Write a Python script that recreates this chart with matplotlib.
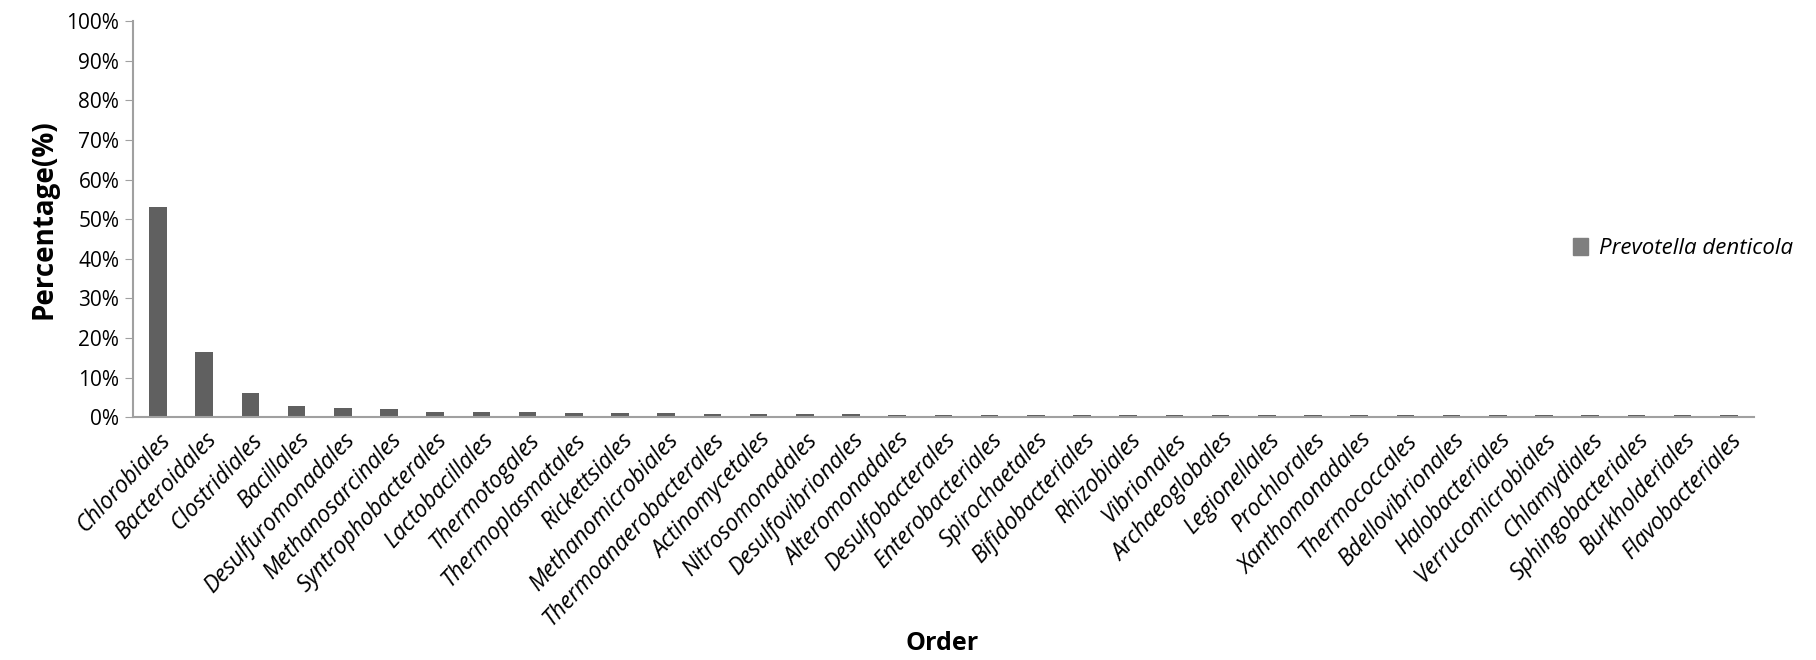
import matplotlib
matplotlib.use("Agg")
import matplotlib.pyplot as plt
import numpy as np

orders = ["Chlorobiales", "Bacteroidales", "Clostridiales", "Bacillales",
          "Desulfuromonadales", "Methanosarcinales", "Syntrophobacterales",
          "Lactobacillales", "Thermotogales", "Thermoplasmatales",
          "Rickettsiales", "Methanomicrobiales", "Thermoanaerobacterales",
          "Actinomycetales", "Nitrosomonadales", "Desulfovibrionales",
          "Alteromonadales", "Desulfobacterales", "Enterobacteriales",
          "Spirochaetales", "Bifidobacteriales", "Rhizobiales", "Vibrionales",
          "Archaeoglobales", "Legionellales", "Prochlorales",
          "Xanthomonadales", "Thermococcales", "Bdellovibrionales",
          "Halobacteriales", "Verrucomicrobiales", "Chlamydiales",
          "Sphingobacteriales", "Burkholderiales", "Flavobacteriales"]
percent = [53.0, 16.5, 6.0, 2.9, 2.4, 2.0, 1.35, 1.35, 1.3, 1.05,
           1.05, 1.0, 0.75, 0.7, 0.7, 0.7, 0.65, 0.5, 0.5, 0.5,
           0.5, 0.5, 0.5, 0.5, 0.5, 0.5, 0.5, 0.5, 0.5, 0.5,
           0.5, 0.5, 0.5, 0.5, 0.45]
series = "Prevotella denticola"

plt.rcParams['font.family'] = ['Open Sans', 'DejaVu Sans']

fig = plt.figure(figsize=(18.16, 6.6), dpi=100)
ax = fig.add_axes([0.073, 0.368, 0.893, 0.6])

x = np.arange(len(orders))
ax.bar(x, percent, width=0.38, color='#606060', label=series)

ax.set_xlim(-0.55, len(orders) - 0.45)
ax.set_ylim(0, 100)
ax.set_yticks(np.arange(0, 101, 10))
ax.set_yticklabels([f"{v}%" for v in range(0, 101, 10)], fontsize=15)
ax.set_xticks(x)
ax.set_xticklabels(orders, rotation=47, ha='right', rotation_mode='anchor',
                   fontsize=16.5, style='italic')
ax.tick_params(axis='x', length=0, pad=8)
ax.tick_params(axis='y', length=6, color='#a0a0a0', direction='out')

for side in ['top', 'right']:
    ax.spines[side].set_visible(False)
for side in ['left', 'bottom']:
    ax.spines[side].set_color('#a0a0a0')
    ax.spines[side].set_linewidth(1.5)

ax.set_ylabel("Percentage(%)", fontsize=20, fontweight='bold', labelpad=6)
fig.text(0.519, 0.015, "Order", fontsize=18, fontweight='bold', ha='center')

leg = fig.legend(loc='center left', bbox_to_anchor=(0.855, 0.623), frameon=False,
                 prop={'size': 16, 'style': 'italic'}, handlelength=0.7,
                 handleheight=0.8, handletextpad=0.5)
for h in leg.legend_handles:
    h.set_color('#7f7f7f')

fig.savefig("out.png", dpi=100)
